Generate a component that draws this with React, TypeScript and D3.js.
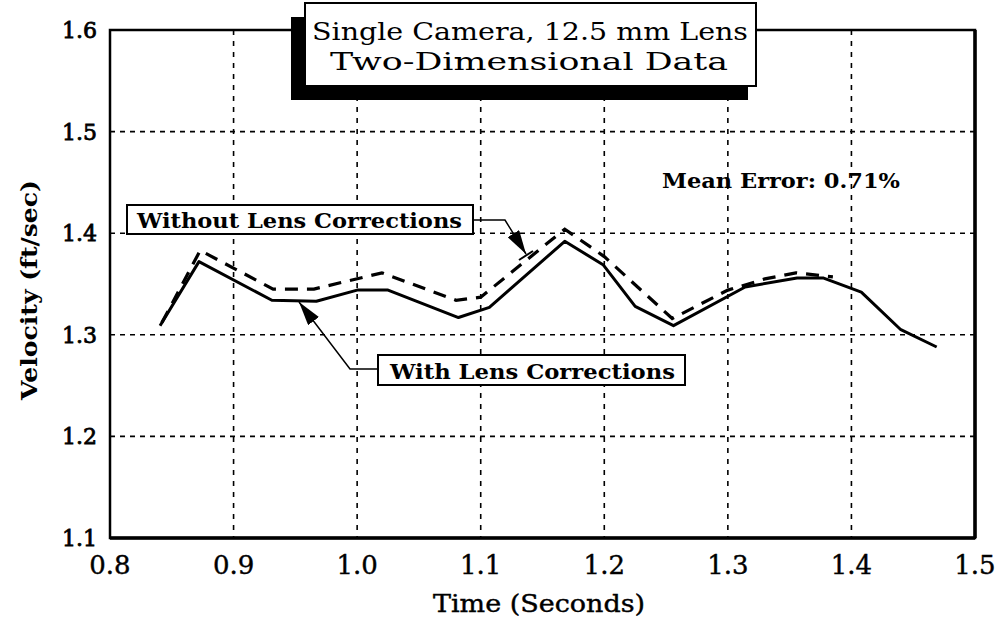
import React from "react";
import * as d3 from "d3";

const xTicks = [0.8, 0.9, 1.0, 1.1, 1.2, 1.3, 1.4, 1.5];
const yTicks = [1.1, 1.2, 1.3, 1.4, 1.5, 1.6];

const withTime = [0.8405, 0.872, 0.931, 0.967, 1.0, 1.025, 1.082, 1.107, 1.168, 1.199, 1.225, 1.256, 1.314, 1.356, 1.377, 1.408, 1.44, 1.469];
const withVel = [1.309, 1.372, 1.334, 1.333, 1.344, 1.344, 1.317, 1.327, 1.392, 1.369, 1.328, 1.309, 1.347, 1.356, 1.356, 1.342, 1.305, 1.288];

const withoutTime = [0.842, 0.873, 0.932, 0.965, 1.02, 1.08, 1.1, 1.168, 1.2, 1.255, 1.3, 1.33, 1.355, 1.385];
const withoutVel = [1.312, 1.383, 1.345, 1.345, 1.361, 1.334, 1.337, 1.404, 1.377, 1.316, 1.344, 1.355, 1.361, 1.357];

const titleLines = ["Single Camera, 12.5 mm Lens", "Two-Dimensional Data"];
const labelWithout = "Without Lens Corrections";
const labelWith = "With Lens Corrections";
const meanError = "Mean Error: 0.71%";

const W = 998, H = 621;
const L = 110, R = 975, T = 30, B = 538;
const FONT = "'DejaVu Serif', serif";

export default function App() {
  const x = d3.scaleLinear().domain([0.8, 1.5]).range([L, R]);
  const y = d3.scaleLinear().domain([1.1, 1.6]).range([B, T]);
  const line = d3.line<[number, number]>().x(d => x(d[0])).y(d => y(d[1]));
  const withPts = withTime.map((t, i) => [t, withVel[i]] as [number, number]);
  const withoutPts = withoutTime.map((t, i) => [t, withoutVel[i]] as [number, number]);

  return (
    <svg width={W} height={H} style={{ position: "absolute", left: 0, top: 0, background: "#fff" }} fontFamily={FONT}>
      <defs>
        <marker id="ah" viewBox="0 0 10 10" refX="10" refY="5" markerWidth="16" markerHeight="9" orient="auto" markerUnits="strokeWidth" preserveAspectRatio="none">
          <path d="M0,0 L10,5 L0,10 Z" fill="#000" />
        </marker>
      </defs>
      <rect x={0} y={0} width={W} height={H} fill="#fff" />
      {/* grid */}
      {xTicks.slice(1, -1).map(t => (
        <line key={"gx" + t} x1={x(t)} x2={x(t)} y1={T} y2={B} stroke="#000" strokeWidth={1.6} strokeDasharray="5,6" />
      ))}
      {yTicks.slice(1, -1).map(t => (
        <line key={"gy" + t} x1={L} x2={R} y1={y(t)} y2={y(t)} stroke="#000" strokeWidth={1.6} strokeDasharray="5,5" />
      ))}
      {/* frame */}
      <rect x={L} y={T} width={R - L} height={B - T} fill="none" stroke="#000" strokeWidth={2.5} />
      <line x1={L} x2={R} y1={B} y2={B} stroke="#000" strokeWidth={3.5} />
      <line x1={R} x2={R} y1={T} y2={B} stroke="#000" strokeWidth={3.5} />
      {/* series */}
      <path d={line(withoutPts) || ""} fill="none" stroke="#000" strokeWidth={3.2} strokeDasharray="13,9" />
      <path d={line(withPts) || ""} fill="none" stroke="#000" strokeWidth={3} strokeLinejoin="round" />
      {/* tick labels */}
      {xTicks.map(t => (
        <text key={"tx" + t} x={x(t)} y={574} textAnchor="middle" fontSize={26} stroke="#000" strokeWidth={0.4}>{t.toFixed(1)}</text>
      ))}
      {yTicks.map(t => (
        <text key={"ty" + t} x={97} y={y(t) + 8} textAnchor="end" fontSize={22} stroke="#000" strokeWidth={0.8}>{t.toFixed(1)}</text>
      ))}
      {/* axis titles */}
      <text x={539} y={612} textAnchor="middle" fontSize={24} textLength={212} lengthAdjust="spacingAndGlyphs" stroke="#000" strokeWidth={0.4}>Time (Seconds)</text>
      <text transform={`translate(37,290) rotate(-90)`} textAnchor="middle" fontSize={23} fontWeight="bold" textLength={220} lengthAdjust="spacingAndGlyphs">Velocity (ft/sec)</text>
      {/* title box */}
      <rect x={291} y={17} width={457} height={83} fill="#000" />
      <rect x={305} y={3} width={451} height={83} fill="#fff" stroke="#000" strokeWidth={2} />
      <text x={530} y={40} textAnchor="middle" fontSize={25} textLength={436} lengthAdjust="spacingAndGlyphs">{titleLines[0]}</text>
      <text x={529} y={70} textAnchor="middle" fontSize={25} textLength={398} lengthAdjust="spacingAndGlyphs">{titleLines[1]}</text>
      {/* mean error */}
      <text x={662} y={188} fontSize={20.5} fontWeight="bold" textLength={238} lengthAdjust="spacingAndGlyphs">{meanError}</text>
      {/* without label */}
      <polyline points="473,220 505,220 526,254" fill="none" stroke="#000" strokeWidth={1.5} markerEnd="url(#ah)" />
      <line x1={519} x2={533} y1={260} y2={251} stroke="#000" strokeWidth={2} />
      <rect x={127} y={205} width={346} height={29} fill="#fff" stroke="#000" strokeWidth={2} />
      <text x={137} y={228} fontSize={20.5} fontWeight="bold" textLength={325} lengthAdjust="spacingAndGlyphs">{labelWithout}</text>
      {/* with label */}
      <polyline points="378,369 350,369 299,302" fill="none" stroke="#000" strokeWidth={1.5} markerEnd="url(#ah)" />
      <rect x={378} y={355} width={307} height={30} fill="#fff" stroke="#000" strokeWidth={2} />
      <text x={390} y={379} fontSize={20.5} fontWeight="bold" textLength={285} lengthAdjust="spacingAndGlyphs">{labelWith}</text>
    </svg>
  );
}
